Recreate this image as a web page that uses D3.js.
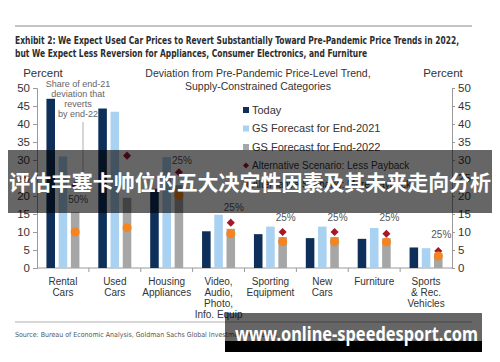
<!DOCTYPE html>
<html>
<head>
<meta charset="utf-8">
<script src="https://cdn.jsdelivr.net/npm/d3@7"></script>
<style>
  body { margin: 0; background: #fff; }
  svg { display: block; font-family: "Liberation Sans", Arial, sans-serif; }
</style>
</head>
<body>
<div id="chart"></div>
<script>
// categories and series
const categories = ["Rental|Cars", "Used|Cars", "Housing|Appliances", "Video,|Audio,|Photo,|Info. Equip",
  "Sporting|Equipment", "New|Cars", "Furniture", "Sports|& Rec.|Vehicles"];
const today = [47, 44.3, 22, 10.2, 9.4, 8.3, 8.1, 5.7];
const end2021 = [31, 43.4, 30.8, 14.8, 11.5, 11.5, 11.1, 5.5];
const end2022 = [15.5, 19.5, 23, 10.9, 8.6, 8.6, 8.3, 4.1];
const lessPayback = [23, 31.2, 26.6, 12.6, 10, 10, 9.5, 4.7];
const morePayback = [10, 11.2, 20.2, 9.5, 7.3, 7.3, 7.2, 3.3];
const shareLabels = ["50%", "", "25%", "25%", "25%", "25%", "25%", "25%"];
const shareLabelAt = [18.9, 0, 30, 16.7, 13.9, 13.9, 13.9, 9.4];
const yTicks = [0, 5, 10, 15, 20, 25, 30, 35, 40, 45, 50];
const seriesNames = ["Today", "GS Forecast for End-2021", "GS Forecast for End-2022",
  "Alternative Scenario: Less Payback", "Alternative Scenario: More Payback"];

const width = 500, height = 362;
const colors = { today: "#0d2f5a", f21: "#a9d1f1", f22: "#a6a6a6", less: "#a3182b", more: "#f5841f" };

const svg = d3.select("#chart").append("svg")
  .attr("width", width)
  .attr("height", height);

// header
svg.append("line").attr("x1", 15).attr("x2", 472).attr("y1", 26).attr("y2", 26)
  .attr("stroke", "#b0b0b0").attr("stroke-width", 1.5);
const titleLines = [
  ["Exhibit 2: We Expect Used Car Prices to Revert Substantially Toward Pre-Pandemic Price Trends in 2022,", 444],
  ["but We Expect Less Reversion for Appliances, Consumer Electronics, and Furniture", 352]
];
titleLines.forEach((t, i) => {
  svg.append("text")
    .attr("x", 15).attr("y", 44 + i * 13)
    .attr("font-family", '"Liberation Sans Narrow", "DejaVu Sans Condensed", sans-serif')
    .attr("font-weight", "bold").attr("font-size", 11)
    .attr("fill", "#2c2c2c")
    .attr("textLength", t[1]).attr("lengthAdjust", "spacingAndGlyphs")
    .text(t[0]);
});

// scales
const x = d3.scaleBand().domain(categories).range([37, 452]);
const inner = d3.scaleBand().domain(["today", "f21", "f22"]).range([-16.5, 16.5]).paddingInner(0.3);
const y = d3.scaleLinear().domain([0, 50]).range([268, 88]);

// axes
const axisColor = "#9a9a9a";
const leftAxis = svg.append("g").attr("transform", "translate(37,0)")
  .call(d3.axisLeft(y).tickValues(yTicks).tickSize(4).tickPadding(3));
const rightAxis = svg.append("g").attr("transform", "translate(452,0)")
  .call(d3.axisRight(y).tickValues(yTicks).tickSize(3).tickPadding(3));
[leftAxis, rightAxis].forEach(g => {
  g.select(".domain").attr("stroke", axisColor);
  g.selectAll(".tick line").attr("stroke", axisColor);
  g.selectAll(".tick text").attr("font-size", 11.5).attr("fill", "#333")
    .attr("font-family", '"Liberation Sans", Arial, sans-serif');
});

const bottom = svg.append("g").attr("transform", "translate(0,268)");
bottom.append("line").attr("x1", 37).attr("x2", 452).attr("stroke", axisColor);
bottom.selectAll("line.sep")
  .data(categories.slice(1))
  .enter().append("line")
  .attr("class", "sep")
  .attr("x1", d => x(d)).attr("x2", d => x(d))
  .attr("y1", 0).attr("y2", 4)
  .attr("stroke", axisColor);
const xLabels = bottom.selectAll("text.cat")
  .data(categories)
  .enter().append("text")
  .attr("class", "cat")
  .attr("text-anchor", "middle")
  .attr("font-size", 10).attr("fill", "#333");
xLabels.each(function (d) {
  const cx = x(d) + x.bandwidth() / 2;
  d.split("|").forEach((line, i) => {
    d3.select(this).append("tspan")
      .attr("x", cx).attr("y", 17 + i * 11)
      .text(line);
  });
});

// bars
const groups = svg.append("g").selectAll("g")
  .data(categories.map((c, i) => ({
    cat: c, today: today[i], f21: end2021[i], f22: end2022[i],
    less: lessPayback[i], more: morePayback[i],
    label: shareLabels[i], labelAt: shareLabelAt[i]
  })))
  .enter().append("g")
  .attr("transform", d => `translate(${x(d.cat) + x.bandwidth() / 2},0)`);

["today", "f21", "f22"].forEach(key => {
  groups.append("rect")
    .attr("x", inner(key))
    .attr("width", inner.bandwidth())
    .attr("y", d => y(d[key]))
    .attr("height", d => y(0) - y(d[key]))
    .attr("fill", colors[key]);
});

const markX = inner("f22") + inner.bandwidth() / 2;
groups.append("path")
  .attr("d", d3.symbol(d3.symbolDiamond2, 42))
  .attr("transform", d => `translate(${markX},${y(d.less)})`)
  .attr("fill", colors.less);
groups.append("circle")
  .attr("cx", markX)
  .attr("cy", d => y(d.more))
  .attr("r", 4.5)
  .attr("fill", colors.more);
groups.append("text")
  .attr("x", markX + 3)
  .attr("y", d => y(d.labelAt))
  .attr("dy", "0.35em")
  .attr("text-anchor", "middle")
  .attr("font-size", 10).attr("fill", "#555")
  .text(d => d.label);

// axis titles
[[43, "Percent"], [443, "Percent"]].forEach(p => {
  svg.append("text").attr("x", p[0]).attr("y", 77)
    .attr("text-anchor", "middle").attr("font-size", 11.5).attr("fill", "#333")
    .text(p[1]);
});
["Deviation from Pre-Pandemic Price-Level Trend,", "Supply-Constrained Categories"].forEach((t, i) => {
  svg.append("text").attr("x", 258).attr("y", 77 + i * 13)
    .attr("text-anchor", "middle").attr("font-size", 10.5).attr("fill", "#333")
    .text(t);
});

// annotation
["Share of end-21", "deviation that", "reverts", "by end-22"].forEach((t, i) => {
  svg.append("text").attr("x", 78).attr("y", 87 + i * 10)
    .attr("text-anchor", "middle").attr("font-size", 9).attr("fill", "#666")
    .text(t);
});
svg.append("line").attr("x1", 83).attr("x2", 83).attr("y1", 122).attr("y2", 192)
  .attr("stroke", "#999").attr("stroke-width", 0.8);

// legend
const legend = svg.append("g").attr("transform", "translate(246,0)");
const legendRows = legend.selectAll("g")
  .data(seriesNames)
  .enter().append("g")
  .attr("transform", (d, i) => `translate(0,${110 + i * 18.5})`);
legendRows.each(function (d, i) {
  const g = d3.select(this);
  if (i < 3) {
    g.append("rect").attr("x", -3).attr("y", -3).attr("width", 6).attr("height", 6)
      .attr("fill", [colors.today, colors.f21, colors.f22][i]);
  } else if (i === 3) {
    g.append("path").attr("d", d3.symbol(d3.symbolDiamond2, 24)).attr("fill", colors.less);
  } else {
    g.append("circle").attr("r", 3.5).attr("fill", colors.more);
  }
  g.append("text").attr("x", 6).attr("dy", "0.35em")
    .attr("font-size", i < 3 ? 11 : 10).attr("fill", "#333").text(d);
});

// footer
svg.append("line").attr("x1", 15).attr("x2", 472).attr("y1", 322).attr("y2", 322)
  .attr("stroke", "#b0b0b0").attr("stroke-width", 1.2);
svg.append("text").attr("x", 15).attr("y", 337)
  .attr("font-family", '"Liberation Sans Narrow", "DejaVu Sans Condensed", sans-serif')
  .attr("font-size", 7).attr("fill", "#555")
  .text("Source: Bureau of Economic Analysis, Goldman Sachs Global Investment Research.");

// watermark overlays
svg.append("rect").attr("x", 8).attr("y", 150).attr("width", 484).attr("height", 63)
  .attr("fill", "rgba(0,0,0,0.6)");
svg.append("text").attr("x", 250).attr("y", 182).attr("dy", "0.36em")
  .attr("text-anchor", "middle")
  .attr("font-family", '"Noto Sans CJK SC", sans-serif')
  .attr("font-weight", "bold").attr("font-size", 21).attr("fill", "#fff")
  .attr("textLength", 482).attr("lengthAdjust", "spacingAndGlyphs")
  .text("评估丰塞卡帅位的五大决定性因素及其未来走向分析");

svg.append("rect").attr("x", 225).attr("y", 313).attr("width", 257).attr("height", 28)
  .attr("fill", "rgba(0,0,0,0.6)");
svg.append("rect").attr("x", 225).attr("y", 341).attr("width", 257).attr("height", 11)
  .attr("fill", "#000");
svg.append("text").attr("x", 235).attr("y", 341)
  .attr("font-family", '"Noto Sans", "DejaVu Sans", sans-serif')
  .attr("font-weight", "bold").attr("font-size", 19).attr("fill", "#fff")
  .attr("textLength", 243).attr("lengthAdjust", "spacingAndGlyphs")
  .text("www.online-speedesport.com");
</script>
</body>
</html>
